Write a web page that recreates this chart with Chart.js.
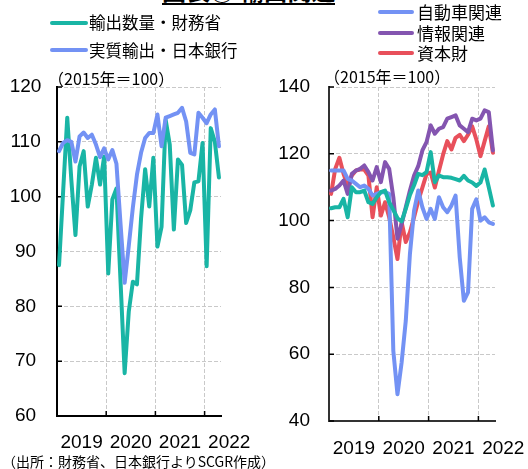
<!DOCTYPE html>
<html><head><meta charset="utf-8">
<script src="https://cdn.jsdelivr.net/npm/chart.js@4.4.0/dist/chart.umd.min.js"></script>
<style>
html,body{margin:0;padding:0;background:#fff;width:528px;height:469px;overflow:hidden;position:relative;font-family:"Noto Sans CJK JP","Noto Sans",sans-serif;color:#000;}
.abs{position:absolute;white-space:nowrap;}
canvas{position:absolute;top:0;}
.lg{position:absolute;height:4px;border-radius:2px;}
</style></head><body>
<div class="abs" id="title" style="left:162px;top:-23px;font-size:24px;font-weight:bold;line-height:26px;height:26px;border-bottom:2px solid #000;">図表⑥ 輸出関連</div>

<canvas id="cL" width="264" height="469" style="left:0"></canvas>
<canvas id="cR" width="264" height="469" style="left:264px"></canvas>

<div class="lg" style="left:50px;top:21px;width:38px;background:#19B5A5"></div>
<div class="abs" style="left:89px;top:11px;font-size:16.5px;line-height:22px;">輸出数量・財務省</div>
<div class="lg" style="left:50px;top:48px;width:38px;background:#7392F4"></div>
<div class="abs" style="left:89px;top:39px;font-size:16.5px;line-height:22px;">実質輸出・日本銀行</div>

<div class="lg" style="left:378px;top:10px;width:36px;background:#7392F4"></div>
<div class="abs" style="left:417px;top:1px;font-size:17px;line-height:22px;">自動車関連</div>
<div class="lg" style="left:378px;top:31px;width:36px;background:#8455B0"></div>
<div class="abs" style="left:417px;top:22px;font-size:17px;line-height:22px;">情報関連</div>
<div class="lg" style="left:378px;top:51px;width:36px;background:#E8505B"></div>
<div class="abs" style="left:417px;top:42px;font-size:17px;line-height:22px;">資本財</div>

<div class="abs" style="left:48px;top:68px;font-size:16px;line-height:20px;">（2015年＝100）</div>
<div class="abs" style="left:324px;top:66px;font-size:16px;line-height:20px;">（2015年＝100）</div>
<div class="abs" style="left:2px;top:452px;font-size:14px;line-height:18px;">（出所：財務省、日本銀行よりSCGR作成）</div>

<script>
// ---- data (monthly, Jan 2019 – Apr 2022) ----
const months = [];
for (let y = 2019; y <= 2022; y++) for (let m = 1; m <= 12; m++) if (months.length < 40) months.push(y + '-' + String(m).padStart(2, '0'));
const yearLabels = ['2019', '2020', '2021', '2022'];

// left panel
const exportVolumeMOF = [87.5,101,114.4,103,93,105.5,108.3,98.2,102.2,107.1,102.2,107.3,86,99.5,101.5,84.5,67.8,79,84.5,84,96,105,98.2,107.1,90.9,94.5,114,109.5,94,106.8,105.8,95.2,97.5,102.6,102.8,109.8,87.3,112.5,110,103.5];
const realExportsBOJ = [108.3,109.8,110.3,110,106.4,111,111.7,110.7,111.3,109.5,107.2,108.8,106.8,108.5,106,95,84.3,91,98,104,108,110.7,111.6,111.6,115,109.2,114.4,114.7,115,115.3,116.2,113.7,108,107.7,115.3,114.4,113.4,115,115.9,109.2];
const leftYTicks = [60,70,80,90,100,110,120];

// right panel
const autoRelated = [115,115,115,115,112.5,112,111,110,110.5,109.5,107.5,108,108.5,108.5,108,61,48,57.5,70,90,103,109,104,100.5,103.5,100.5,107,104,102.5,104.5,107.5,89,76,78.5,103.5,106.4,100,101,99.5,99];
const infoRelated = [109,109.5,110.5,112,108,114,115,115.5,116.5,114.5,112,116,111.5,117.5,115.5,107,94.6,99,104,109,113.5,116.3,121,123.5,128.5,126,127.5,128,130.5,131,131.5,128.5,127.5,126.5,130.5,130,130.5,133,132.5,121];
const capitalGoods = [108,115.5,118.8,114,110.5,113.5,115,115.3,115.3,113.5,101,110,101.5,105.5,101,95,88.5,99.5,93.6,96.5,101,105.9,109.9,113.9,114.4,109.9,114.9,119.8,123.8,121.3,124.8,125.7,123.8,125.7,128.2,124.3,119.3,123.8,128.2,120.3];
const totalVolume = [103.7,104,104,106.5,101,110,108.5,108.5,109,105.5,105,107,108.5,109,105.5,103.2,100.7,99.8,103.5,107.7,110.6,114,113.6,114.5,120.5,111.5,113.5,113,113,112.8,112.4,112,113.4,112,111.4,110.4,111.4,115.3,110,104.5];
const rightYTicks = [40,60,80,100,120,140];

const TEAL = '#19B5A5', BLUE = '#7392F4', PURPLE = '#8455B0', RED = '#E8505B';
const LINE_W = 4;
const GRID = '#c9c9c9';
const yearStarts = [-0.5, 11.5, 23.5, 35.5];

const innerTicks = {
  id: 'innerTicks',
  beforeDatasetsDraw(chart) {
    const {ctx, chartArea: a, scales: {x, y}} = chart;
    ctx.save();
    ctx.strokeStyle = '#000'; ctx.lineWidth = 1.5;
    ctx.beginPath();
    y.ticks.forEach(t => { const py = y.getPixelForValue(t.value); ctx.moveTo(a.left, py); ctx.lineTo(a.left + 5, py); });
    x.ticks.forEach((t, i) => { if (i === 0) return; const px = x.getPixelForValue(t.value); ctx.moveTo(px, a.bottom); ctx.lineTo(px, a.bottom - 5); });
    ctx.stroke();
    ctx.restore();
  }
};

function makeChart(id, series, c) {
  return new Chart(document.getElementById(id), {
    type: 'line',
    data: {
      datasets: series.map(s => ({
        label: s.label,
        data: s.values.map((v, i) => ({x: i, y: v})),
        borderColor: s.color, backgroundColor: s.color,
        borderWidth: LINE_W, pointRadius: 0, tension: 0, fill: false,
        borderJoinStyle: 'round', borderCapStyle: 'round'
      }))
    },
    options: {
      responsive: false, animation: false, devicePixelRatio: 1,
      layout: {padding: {left: 0, top: c.top, right: c.padRight, bottom: 0}},
      plugins: {legend: {display: false}, tooltip: {enabled: false}},
      scales: {
        x: {
          type: 'linear', min: -0.5, max: months.length - 0.5,
          afterBuildTicks: s => { s.ticks = yearStarts.map(v => ({value: v})); },
          afterFit: s => { s.height = c.xH; },
          ticks: {
            callback: (v, i) => yearLabels[i], labelOffset: c.labelOffset,
            autoSkip: false, maxRotation: 0, padding: c.xPad, color: '#000',
            font: {family: '"Liberation Sans", Arial, sans-serif', size: 19}
          },
          grid: {color: g => g.index === 0 ? 'rgba(0,0,0,0)' : GRID, lineWidth: 1, drawTicks: false},
          border: {display: true, color: c.axisColor, width: 2, dash: [4, 2]}
        },
        y: {
          min: c.yTicks[0], max: c.yTicks[c.yTicks.length - 1],
          afterBuildTicks: s => { s.ticks = c.yTicks.map(v => ({value: v})); },
          afterFit: s => { s.width = c.yW; },
          ticks: {
            padding: c.yPad, crossAlign: c.crossAlign, color: '#000',
            font: {family: '"Liberation Sans", Arial, sans-serif', size: 19}
          },
          grid: {color: GRID, lineWidth: 1, drawTicks: false},
          border: {display: true, color: c.axisColor, width: 2, dash: [4, 2]}
        }
      }
    },
    plugins: [innerTicks]
  });
}

makeChart('cL', [
  {label: '実質輸出・日本銀行', values: realExportsBOJ, color: BLUE},
  {label: '輸出数量・財務省', values: exportVolumeMOF, color: TEAL}
], {top: 87, padRight: 43, xH: 53, yW: 57, yTicks: leftYTicks, labelOffset: 24.6, xPad: 15.5, yPad: 15.6, crossAlign: 'center', axisColor: '#000'});

makeChart('cR', [
  {label: '輸出数量', values: totalVolume, color: TEAL},
  {label: '自動車関連', values: autoRelated, color: BLUE},
  {label: '情報関連', values: infoRelated, color: PURPLE},
  {label: '資本財', values: capitalGoods, color: RED}
], {top: 87, padRight: 33, xH: 48, yW: 65, yTicks: rightYTicks, labelOffset: 24.9, xPad: 16.5, yPad: 19, crossAlign: 'near', axisColor: '#333'});
</script>
</body></html>
